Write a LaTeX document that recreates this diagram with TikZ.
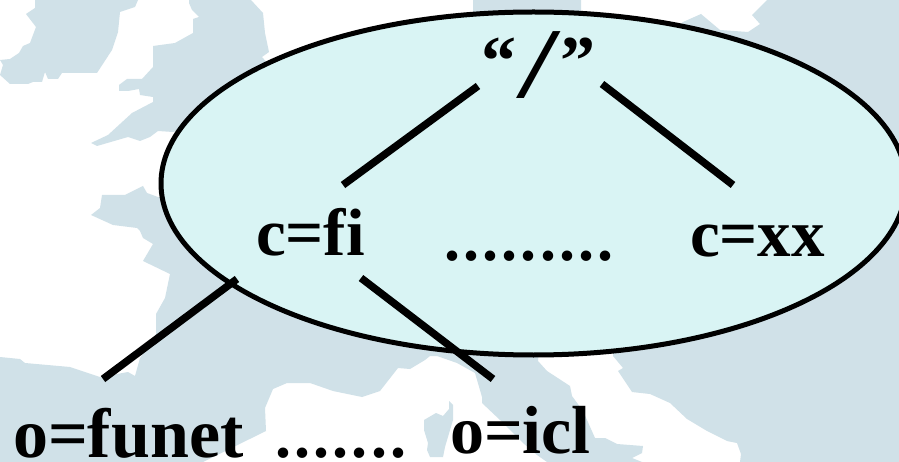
\documentclass[tikz,border=0pt]{standalone}
\usepackage{fontspec}
\setmainfont{Liberation Serif}
\tikzset{
  land/.style={fill=landblue,draw=none},
  dn/.style={line width=7.5pt,line cap=butt},
  lab/.style={anchor=base west,inner sep=0pt,outer sep=0pt,font=\bfseries},
}
\definecolor{landblue}{HTML}{D0E1E8}
\definecolor{ovalfill}{HTML}{D9F4F4}
\newcommand{\fs}[1]{\fontsize{#1}{#1}\selectfont}
\begin{document}
\begin{tikzpicture}[x=1pt,y=-1pt]
\useasboundingbox (0,0) rectangle (899,462);
\fill[white] (0,0) rectangle (899,462);
% Ireland
\fill[land] (35,0)--(138,0)--(135,7)--(120,12)--(118,32)--(112,50)--(97,73)--(62,73)--(58,79)--(48,79)--(45,72)--(42,82)--(33,82)--(28,84)--(10,84)--(0,75)--(3,65)--(0,60)--(10,59)--(19,53)--(23,46)--(30,43)--(36,27)--(26,14)--(35,8)--cycle;
% Britain
\fill[land] (189,0)--(251,0)--(263,13)--(265,33)--(269,52)--(262,57)--(300,100)--(173,132)--(158,131)--(150,137)--(140,141)--(128,137)--(97,146)--(91,143)--(108,135)--(132,113)--(153,102)--(153,97)--(140,95)--(139,89)--(128,91)--(119,91)--(119,85)--(127,79)--(142,79)--(153,67)--(153,46)--(175,43)--(193,33)--(193,19)--(199,17)--(192,10)--(189,3)--cycle;
% Continent
\fill[land] (91,215)--(113,225)--(137,228)--(140,231)--(143,238)--(153,244)--(143,261)--(170,274)--(165,298)--(156,314)--(156,334)--(140,358)--(135,376)--(128,372)--(117,374)--(103,378)--(70,367)--(25,363)--(20,359)--(0,357)--(0,462)--(203,462)--(266,431)--(265,408)--(273,389)--(287,383)--(310,383)--(333,391)--(362,397)--(380,391)--(398,368)--(410,369)--(425,360)--(430,356)--(437,356)--(457,363)--(475,373)--(482,397)--(482,403)--(500,420)--(523,443)--(537,455)--(547,462)--(642,462)--(632,458)--(642,453)--(643,446)--(617,444)--(605,438)--(595,438)--(583,411)--(572,396)--(570,386)--(547,371)--(538,361)--(540,340)--(613,340)--(613,356)--(623,368)--(618,371)--(632,392)--(650,394)--(670,403)--(687,419)--(707,431)--(727,441)--(737,443)--(741,454)--(740,462)--(899,462)--(899,0)--(767,0)--(752,15)--(760,24)--(748,32)--(720,30)--(701,14)--(683,22)--(640,60)--(581,60)--(581,0)--(473,0)--(473,40)--(300,200)--(158,197)--(147,193)--(143,186)--(125,195)--(102,195)--(100,208)--cycle;
% Corsica
\fill[land] (424,420)--(436,413)--(443,416)--(449,409)--(449,401)--(453,405)--(453,420)--(445,447)--(443,457)--(430,457)--(427,450)--(428,443)--(424,430)--cycle;
% Oval
\draw[fill=ovalfill,line width=5pt] (533.5,183.5) ellipse [x radius=372.5pt,y radius=171.5pt];
% Labels
\node[lab,font=\bfseries\fs{70}] (root) at (481,85) {“\raisebox{-13pt}{\scalebox{1.6}[1]{\mdseries\fs{100}/}}”};
\node[lab,font=\bfseries\fs{67}] (fi) at (256,256) {c=fi};
\node[lab,font=\bfseries\fs{67}] (xx) at (690,257) {c=xx};
\node[lab,font={\bfseries\fs{64}\addfontfeature{LetterSpace=5}}] (dotsa) at (444,261) {.........};
\node[lab,font=\bfseries\fs{70}] (funet) at (13,457) {o=funet};
\node[lab,font={\bfseries\fs{64}\addfontfeature{LetterSpace=5}}] (dotsb) at (275,457) {.......};
\node[lab,font=\bfseries\fs{68}] (icl) at (450,453) {o=icl};
% Connector ends
\coordinate (ra) at (478,86);
\coordinate (fa) at (343,185);
\coordinate (rb) at (602,84);
\coordinate (xa) at (733,185);
\coordinate (fb) at (237,279);
\coordinate (oa) at (103,379);
\coordinate (fc) at (361,278);
\coordinate (ob) at (493,379);
\draw[dn] (ra)--(fa);
\draw[dn] (rb)--(xa);
\draw[dn] (fb)--(oa);
\draw[dn] (fc)--(ob);
\end{tikzpicture}
\end{document}
